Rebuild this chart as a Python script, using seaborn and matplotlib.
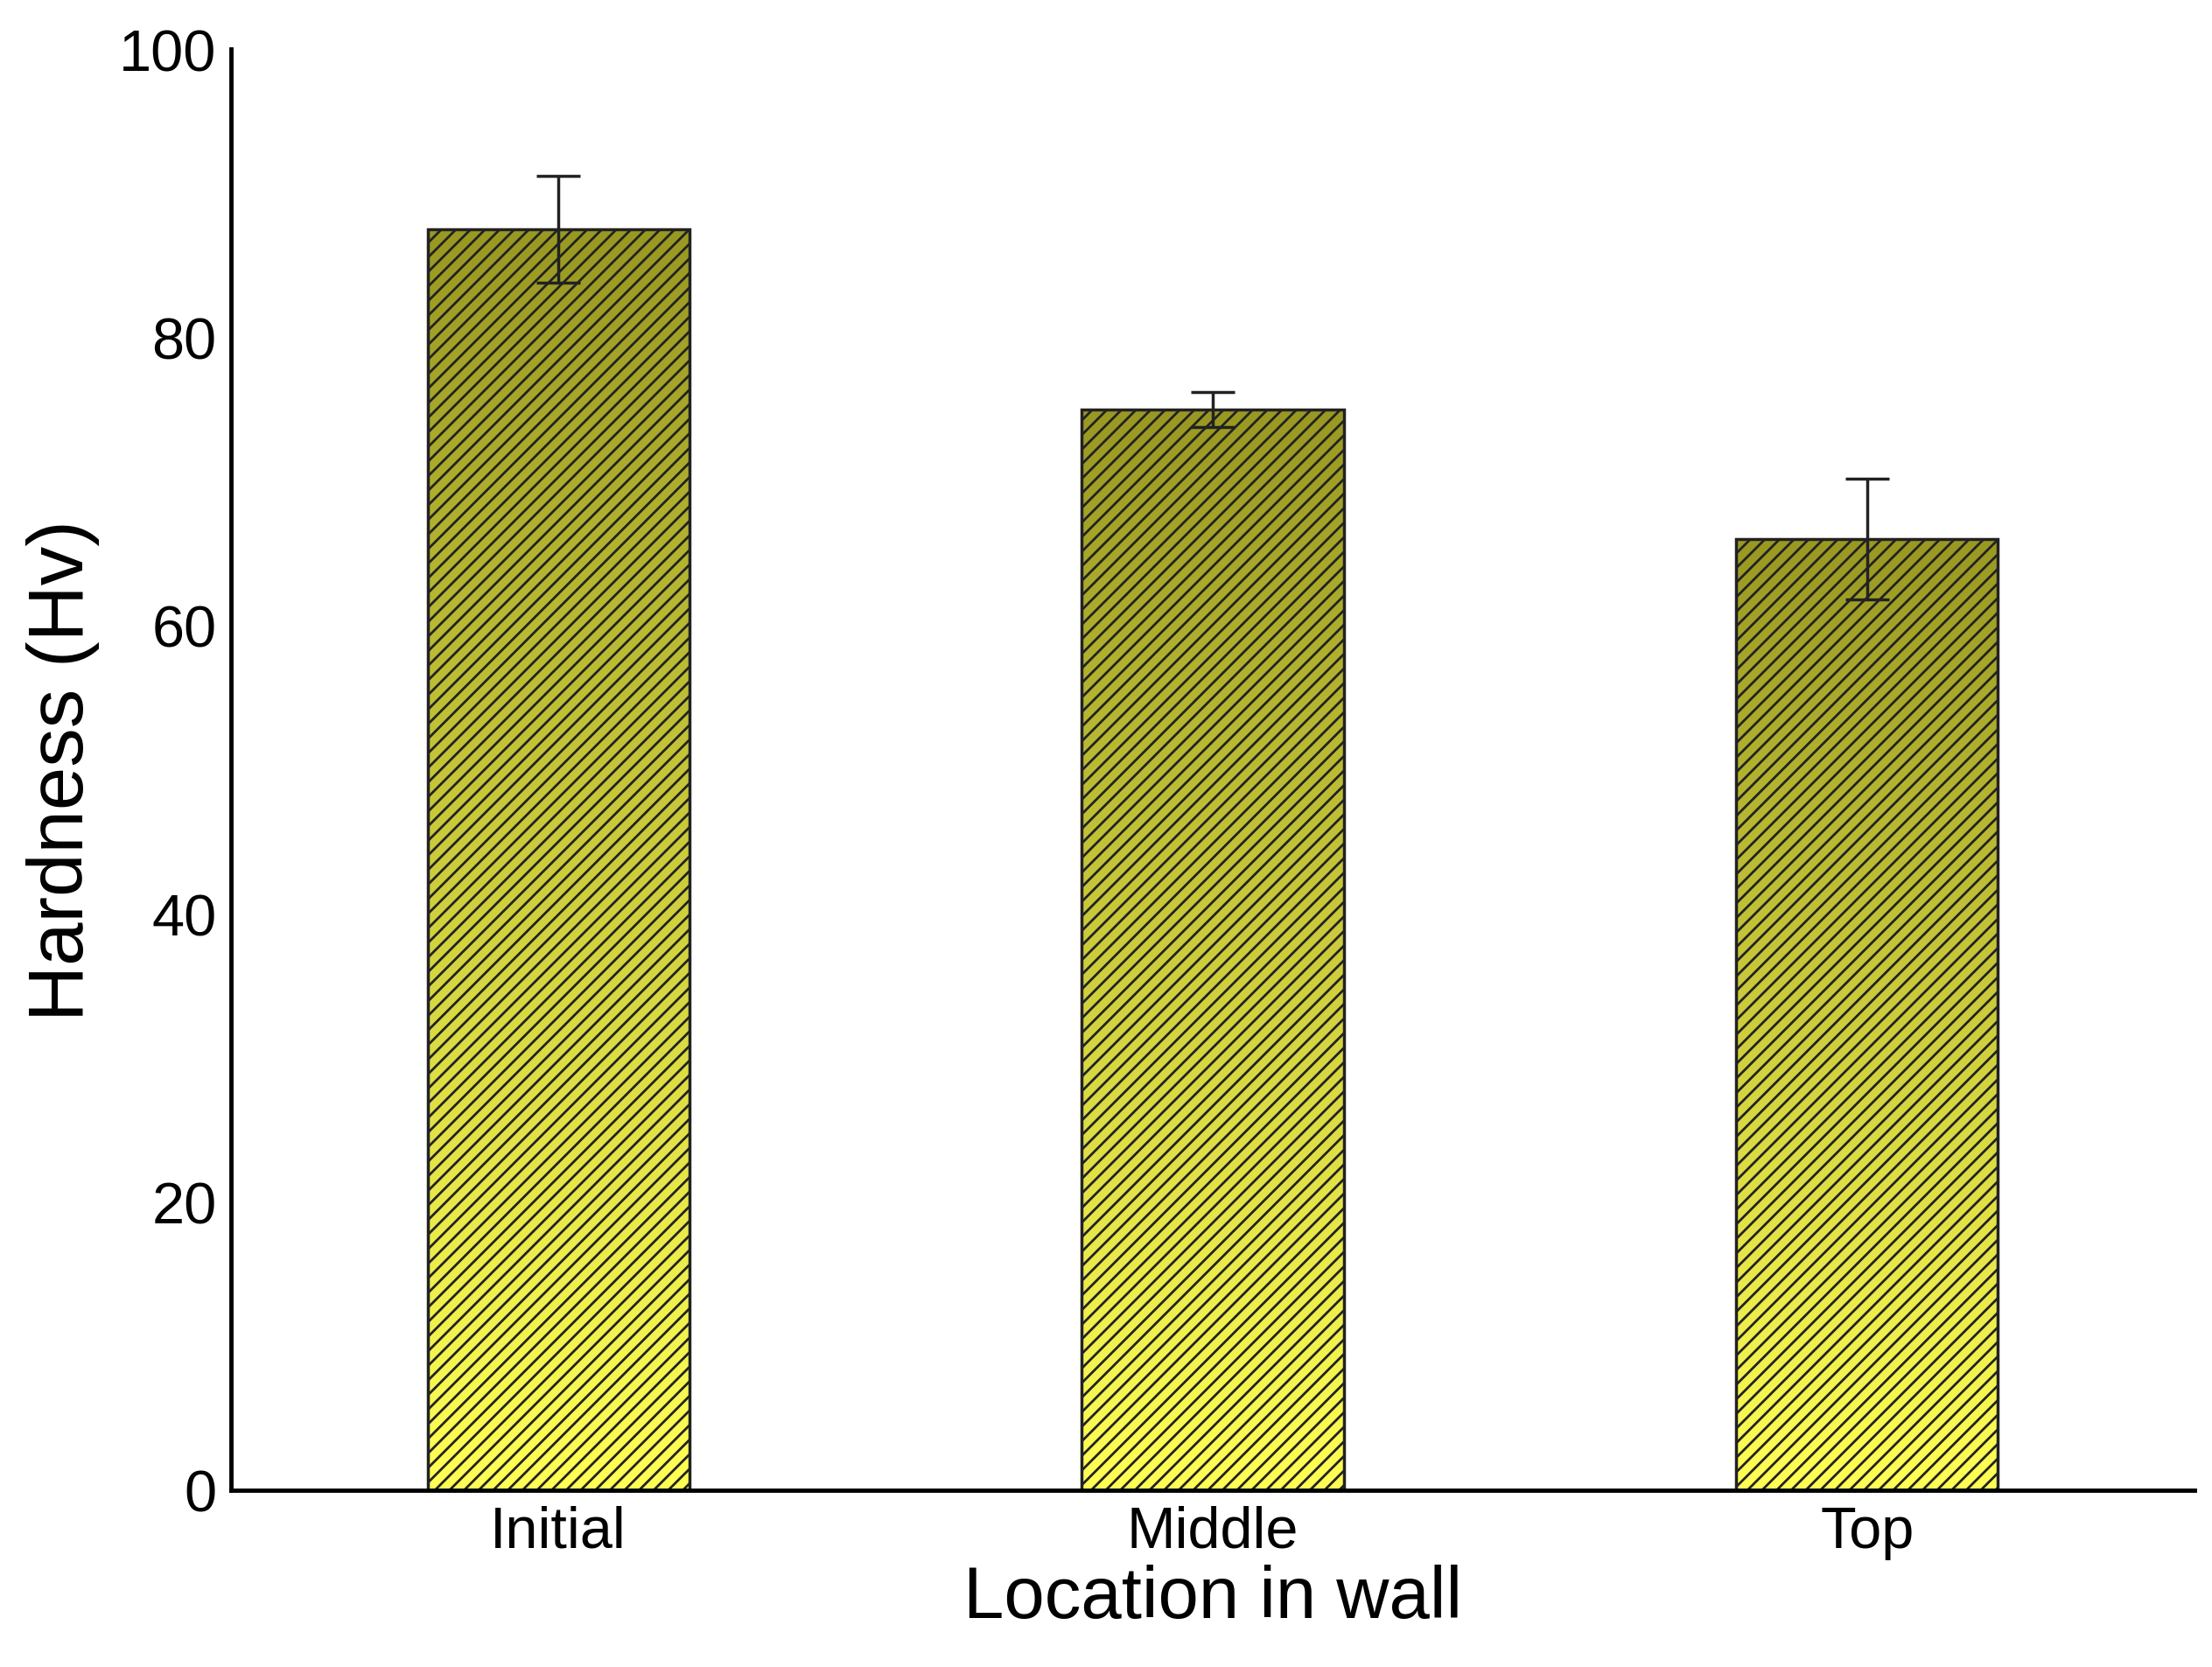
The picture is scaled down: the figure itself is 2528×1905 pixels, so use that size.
import numpy as np
import pandas as pd
import seaborn as sns
from matplotlib import pyplot as plt
from matplotlib.colors import LinearSegmentedColormap

sns.set_style("white")
plt.rcParams['font.family'] = ['Liberation Sans', 'DejaVu Sans']
plt.rcParams['hatch.linewidth'] = 2.0
plt.rcParams['text.color'] = 'black'
plt.rcParams['axes.labelcolor'] = 'black'
plt.rcParams['xtick.color'] = 'black'
plt.rcParams['ytick.color'] = 'black'

locations = ["Initial", "Middle", "Top"]
hardness = [87.5, 75.0, 66.0]
errors = [3.7, 1.2, 4.2]

df = pd.DataFrame({"loc": locations, "hv": hardness})

fig = plt.figure(figsize=(25.28, 19.06), dpi=100)
ax = fig.add_axes([0.1045, 0.106, 0.8875, 0.864])

sns.barplot(data=df, x="loc", y="hv", width=0.4, errorbar=None,
            facecolor="none", edgecolor="#222222", linewidth=2.5, ax=ax)

cmap = LinearSegmentedColormap.from_list("olive", ["#ffff55", "#999922"])
grad = np.linspace(0, 1, 256).reshape(-1, 1)
for bar in ax.patches:
    x0, w, h = bar.get_x(), bar.get_width(), bar.get_height()
    im = ax.imshow(grad, cmap=cmap, origin="lower", aspect="auto",
                   extent=[x0, x0 + w, 0, h], zorder=1)
    im.set_clip_path(bar)
    bar.set_hatch("//")
    bar.set_zorder(2)

ax.errorbar(range(len(locations)), hardness, yerr=errors, fmt="none",
            ecolor="#222222", elinewidth=2.5, capsize=18, capthick=2.5, zorder=3)

ax.set_xlim(-0.5, 2.5)
ax.set_ylim(0, 100)
ax.set_yticks(range(0, 101, 20))
ax.set_xlabel("Location in wall", fontsize=60, labelpad=4)
ax.set_ylabel("Hardness (Hv)", fontsize=64, labelpad=16)
ax.tick_params(labelsize=48, length=0, pad=12)
sns.despine(ax=ax)
for s in ["left", "bottom"]:
    ax.spines[s].set_linewidth(3.5)
    ax.spines[s].set_color("black")

fig.savefig("out.png", dpi=100)
